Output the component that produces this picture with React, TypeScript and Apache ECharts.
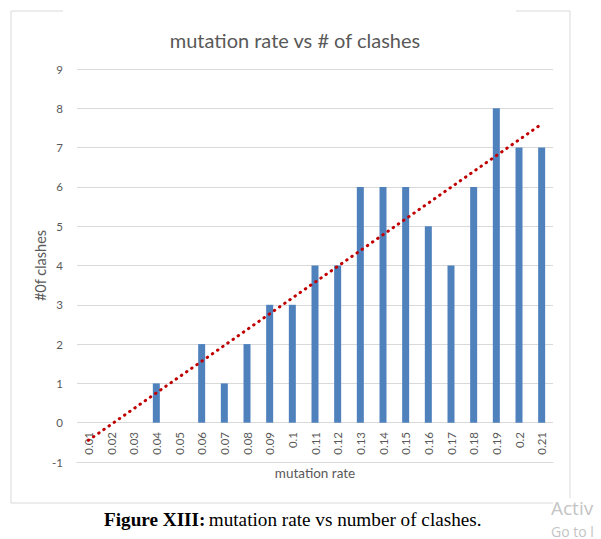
import React, { useEffect, useRef } from "react";
import * as echarts from "echarts";

const categories = ["0.01","0.02","0.03","0.04","0.05","0.06","0.07","0.08","0.09","0.1","0.11","0.12","0.13","0.14","0.15","0.16","0.17","0.18","0.19","0.2","0.21"];
const clashes = [0,0,0,1,0,2,1,2,3,3,4,4,6,6,6,5,4,6,8,7,7];
const trendStart = ["0.01", -0.45];
const trendEnd = ["0.21", 7.6];
const yTicks = { min: -1, max: 9, interval: 1 };

export default function App() {
  const ref = useRef<HTMLDivElement>(null);
  useEffect(() => {
    const chart = echarts.init(ref.current!, null, { renderer: "svg" });
    const grey = "#595959";
    const border = "#d9d9d9";
    chart.setOption({
      animation: false,
      title: {
        text: "mutation rate vs # of clashes",
        left: 290,
        textAlign: "center",
        top: 25,
        textStyle: { fontFamily: "Lato", fontSize: 20, fontWeight: "normal", color: grey },
      },
      grid: { left: 77, right: 48, top: 69, bottom: 77 },
      xAxis: {
        type: "category",
        data: categories,
        name: "mutation rate",
        nameLocation: "middle",
        nameGap: 4,
        nameMoveOverlap: false,
        nameTextStyle: { fontFamily: "Lato", fontSize: 13.5, color: grey },
        axisLine: { onZero: false, lineStyle: { color: border } },
        axisTick: { show: false },
        axisLabel: { rotate: 90, fontFamily: "Lato", fontSize: 11.5, color: grey, margin: -30, interval: 0 },
      },
      yAxis: {
        type: "value",
        min: yTicks.min,
        max: yTicks.max,
        interval: yTicks.interval,
        name: "#0f clashes",
        nameLocation: "middle",
        nameGap: 29,
        nameRotate: 90,
        nameMoveOverlap: false,
        nameTextStyle: { fontFamily: "Lato", fontSize: 14.5, color: grey },
        axisLine: { show: false },
        axisTick: { show: false },
        axisLabel: { fontFamily: "Lato", fontSize: 11.5, color: grey, margin: 14 },
        splitLine: { lineStyle: { color: border, width: 1 } },
      },
      series: [
        {
          type: "bar",
          data: clashes,
          barWidth: 7,
          itemStyle: { color: "#4f81bd" },
        },
        {
          type: "line",
          data: [trendStart, trendEnd],
          symbol: "none",
          lineStyle: { color: "#c00000", width: 3, type: [0.5, 5.8], cap: "round" },
        },
      ],
      graphic: [
        { type: "line", shape: { x1: 11, y1: 11, x2: 11, y2: 503 }, style: { stroke: border, lineWidth: 1 } },
        { type: "line", shape: { x1: 11, y1: 11, x2: 63, y2: 11 }, style: { stroke: border, lineWidth: 1 } },
        { type: "line", shape: { x1: 516, y1: 11, x2: 570, y2: 11 }, style: { stroke: border, lineWidth: 1 } },
        { type: "line", shape: { x1: 570, y1: 11, x2: 570, y2: 498 }, style: { stroke: border, lineWidth: 1 } },
        { type: "line", shape: { x1: 11, y1: 503, x2: 553, y2: 503 }, style: { stroke: border, lineWidth: 1 } },
        {
          type: "text",
          x: 104,
          y: 519,
          style: {
            text: "{b|Figure XIII:} {n|mutation rate vs number of clashes.}",
            verticalAlign: "middle",
            rich: {
              b: { fontFamily: "Liberation Serif", fontSize: 19.2, fontWeight: "bold", fill: "#000" },
              n: { fontFamily: "Liberation Serif", fontSize: 19.2, fill: "#000" },
            },
          },
        },
        {
          type: "text",
          x: 551,
          y: 508,
          style: { text: "Activ", fontFamily: "Open Sans", fontSize: 19, fill: "#c4c4c4", verticalAlign: "middle" },
        },
        {
          type: "text",
          x: 551,
          y: 531,
          style: { text: "Go to l", fontFamily: "Open Sans", fontSize: 14, fill: "#c4c4c4", verticalAlign: "middle" },
        },
      ],
    });
    return () => chart.dispose();
  }, []);
  return <div ref={ref} style={{ position: "fixed", left: 0, top: 0, width: 601, height: 539, background: "#fff" }} />;
}
